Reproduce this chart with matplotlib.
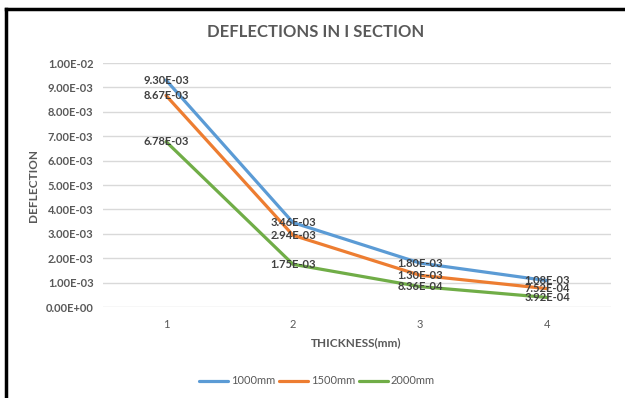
import matplotlib.pyplot as plt
from matplotlib.lines import Line2D
from matplotlib.ticker import FuncFormatter

# data
thickness = [1, 2, 3, 4]
d_1000 = [9.30e-3, 3.46e-3, 1.80e-3, 1.08e-3]
d_1500 = [8.67e-3, 2.94e-3, 1.30e-3, 7.52e-4]
d_2000 = [6.78e-3, 1.75e-3, 8.36e-4, 3.92e-4]
series_names = ['1000mm', '1500mm', '2000mm']

plt.rcParams['font.family'] = ['Lato', 'DejaVu Sans']

fig = plt.figure(figsize=(6.25, 3.98), dpi=100)
ax = fig.add_axes([102.5 / 625, 1 - 307 / 398, (610.5 - 102.5) / 625, (307 - 63) / 398])

colors = ['#5B9BD5', '#ED7D31', '#70AD47']
for vals, name, c in zip([d_1000, d_1500, d_2000], series_names, colors):
    ax.plot(thickness, vals, color=c, linewidth=2.3, label=name, solid_capstyle='round')
    for x, y in zip(thickness, vals):
        ax.text(x, y, '%.2E' % y, ha='center', va='center', fontsize=8,
                color='#404040', fontweight='bold')

ax.set_xlim(0.5, 4.5)
ax.set_ylim(0, 0.01)
ax.set_yticks([i * 0.001 for i in range(11)])
ax.yaxis.set_major_formatter(FuncFormatter(lambda v, p: '%.2E' % v))
ax.set_xticks(thickness)
ax.grid(axis='y', color='#D9D9D9', linewidth=1)
ax.set_axisbelow(True)
for s in ax.spines.values():
    s.set_visible(False)
ax.tick_params(axis='y', length=0, labelsize=8, labelcolor='#595959', pad=6.5)
ax.tick_params(axis='x', length=0, labelsize=8, labelcolor='#595959', pad=9)
for lab in ax.get_yticklabels():
    lab.set_fontweight('bold')

fig.text(316 / 625, 1 - 32 / 398, 'DEFLECTIONS IN I SECTION', fontsize=12, fontweight='bold',
         color='#595959', ha='center', va='center')
fig.text(356 / 625, 1 - 343 / 398, 'THICKNESS(mm)', fontsize=8.5, fontweight='bold',
         color='#595959', ha='center', va='center')
fig.text(33 / 625, 1 - 186 / 398, 'DEFLECTION', fontsize=8.5, fontweight='bold',
         color='#595959', ha='center', va='center', rotation=90)

fig.legend(loc='center', bbox_to_anchor=(317 / 625, 1 - 381 / 398), ncol=3, frameon=False,
           fontsize=8, labelcolor='#595959', handlelength=2.6, columnspacing=0.3, handletextpad=0.3)

# outer frame (top and left only)
fig.add_artist(Line2D([6 / 625, 1], [1 - 8.5 / 398, 1 - 8.5 / 398], color='black', linewidth=2.5))
fig.add_artist(Line2D([6 / 625, 6 / 625], [0, 1 - 8.5 / 398], color='black', linewidth=2.5))

fig.savefig('out.png', dpi=100)
